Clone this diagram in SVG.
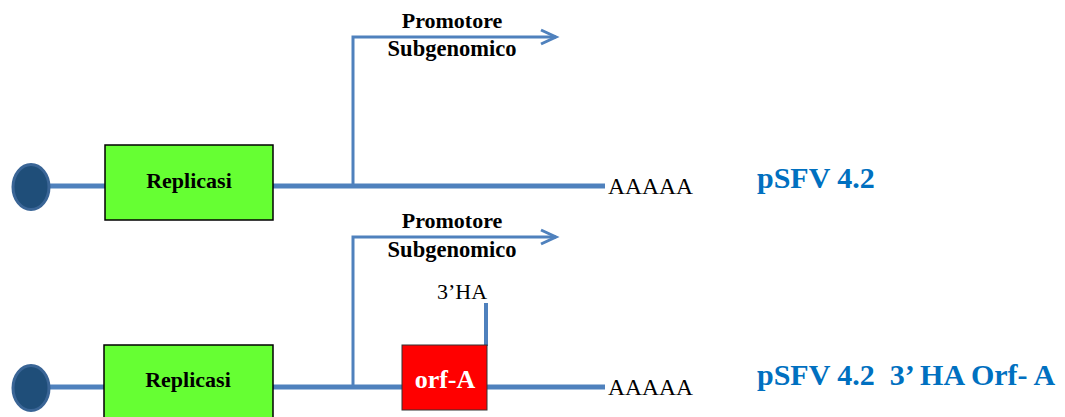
<svg xmlns="http://www.w3.org/2000/svg" width="1065" height="417" viewBox="0 0 1065 417">
<style>
.main{stroke:#4F81BD;stroke-width:5;fill:none}
.prom{stroke:#4F81BD;stroke-width:3;fill:none}
.cap{fill:#1F4E79;stroke:#3A6596;stroke-width:3}
.rep{fill:#66FF33;stroke:#000;stroke-width:1.5}
.orf{fill:#FF0000;stroke:#333;stroke-width:1}
.t{font-family:"Liberation Serif","Times New Roman",serif;font-size:22px;fill:#000}
.a{font-size:23.5px}
.b{font-weight:bold}
.c{text-anchor:middle}
.lab{font-family:"Liberation Serif","Times New Roman",serif;font-size:30px;font-weight:bold;fill:#0070C0;white-space:pre}
</style>
<defs>
<marker id="arr" markerUnits="userSpaceOnUse" markerWidth="20" markerHeight="20" refX="16" refY="8" orient="auto" viewBox="0 0 20 16">
<path d="M1,1 L16,8 L1,15" fill="none" stroke="#4F81BD" stroke-width="3"/>
</marker>
</defs>
<g id="connectors">
<line class="main" x1="40" y1="186" x2="605" y2="186"/>
<polyline class="prom" points="353,186 353,37 556,37" marker-end="url(#arr)"/>
<line class="main" x1="40" y1="387" x2="605" y2="387"/>
<polyline class="prom" points="353,387 353,237 556,237" marker-end="url(#arr)"/>
<line x1="486" y1="303" x2="486" y2="346" stroke="#4F81BD" stroke-width="4"/>
</g>
<g id="cap1"><ellipse class="cap" cx="31" cy="187" rx="18" ry="22.5"/></g>
<g id="replicasi1">
<rect class="rep" x="105" y="145" width="168" height="75"/>
<text class="t b c" x="189" y="188">Replicasi</text>
</g>
<g id="promoter1">
<text class="t b c" x="452" y="28">Promotore</text>
<text class="t b c" x="452" y="56" style="font-size:22.5px">Subgenomico</text>
</g>
<g id="polyA1"><text class="t a" x="608" y="194">AAAAA</text></g>
<g id="label1"><text class="lab" x="757" y="188">pSFV 4.2</text></g>
<g id="cap2"><ellipse class="cap" cx="31" cy="388" rx="18" ry="22.5"/></g>
<g id="replicasi2">
<rect class="rep" x="104" y="345" width="169" height="80"/>
<text class="t b c" x="188" y="387">Replicasi</text>
</g>
<g id="promoter2">
<text class="t b c" x="452" y="228">Promotore</text>
<text class="t b c" x="452" y="257" style="font-size:22.5px">Subgenomico</text>
</g>
<g id="ha"><text class="t" x="437" y="299">3’HA</text></g>
<g id="orfA">
<rect class="orf" x="402" y="345" width="85" height="65"/>
<text class="t b c" x="445" y="388" style="fill:#fff;font-size:26px">orf-A</text>
</g>
<g id="polyA2"><text class="t a" x="608" y="395">AAAAA</text></g>
<g id="label2"><text class="lab" x="757" y="385" xml:space="preserve">pSFV 4.2  3’ HA Orf- A</text></g>
</svg>
